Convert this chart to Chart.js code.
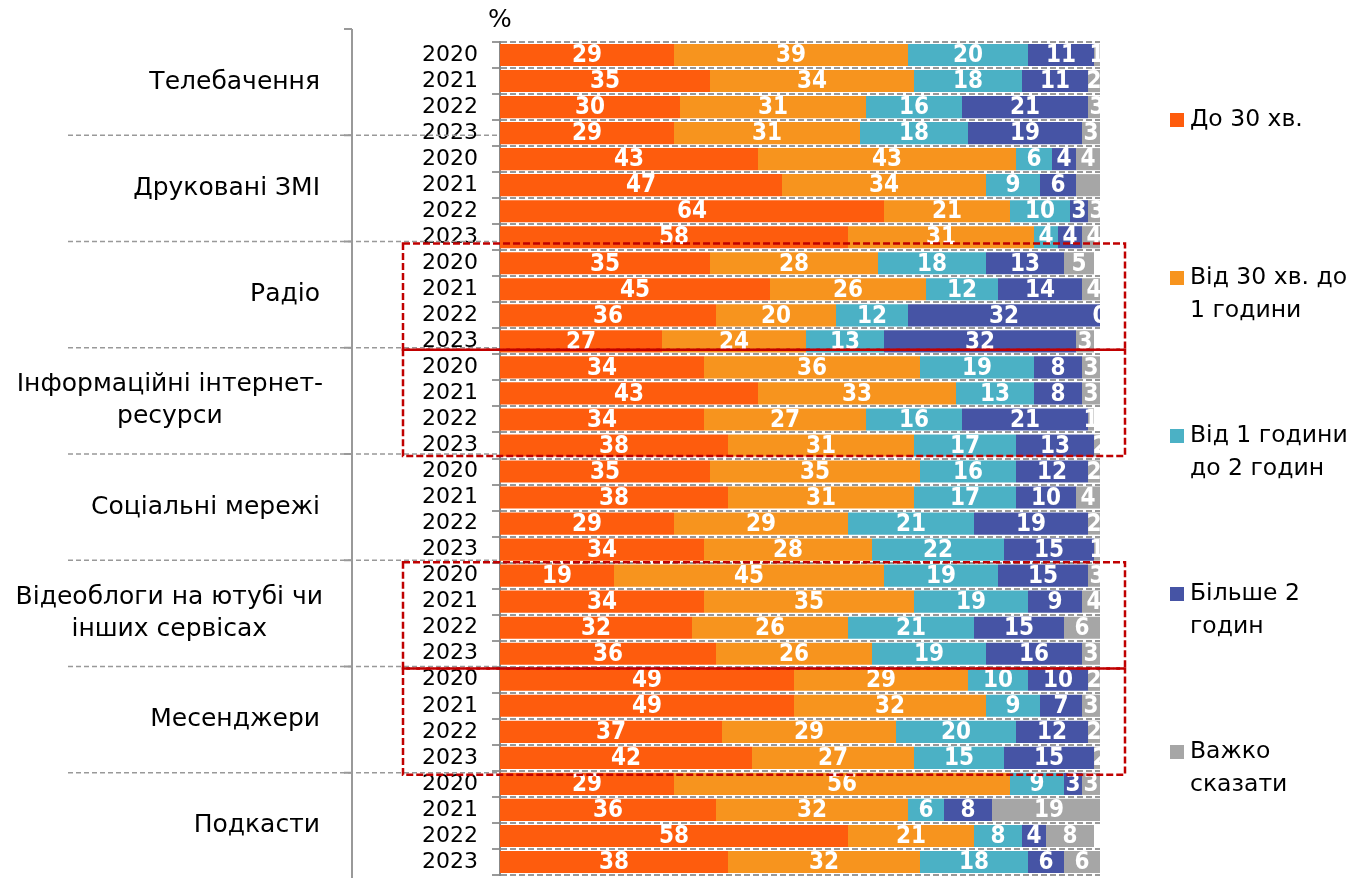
<!DOCTYPE html>
<html>
<head>
<meta charset="utf-8">
<title>Час споживання медіа</title>
<script src="https://cdn.jsdelivr.net/npm/chart.js@4.4.1/dist/chart.umd.min.js"></script>
<style>
    html, body { margin: 0; padding: 0; background: #fff; }
    #wrap { width: 1352px; height: 878px; }
    canvas { display: block; }
</style>
</head>
<body>
<div id="wrap"><canvas id="chart" width="1352" height="878"></canvas></div>
<script>
// Data
const years = ['2020', '2021', '2022', '2023'];
const groups = [
    ['Телебачення'],
    ['Друковані ЗМІ'],
    ['Радіо'],
    ['Інформаційні інтернет-', 'ресурси'],
    ['Соціальні мережі'],
    ['Відеоблоги на ютубі чи', 'інших сервісах'],
    ['Месенджери'],
    ['Подкасти']
];
const seriesNames = [
    ['До 30 хв.'],
    ['Від 30 хв. до', '1 години'],
    ['Від 1 години', 'до 2 годин'],
    ['Більше 2', 'годин'],
    ['Важко', 'сказати']
];
const seriesColors = ['#FE5C0D', '#F7941E', '#4BB1C5', '#4654A5', '#A6A6A6'];

// rows: each group 2020..2023
const under30    = [29, 35, 30, 29,  43, 47, 64, 58,  35, 45, 36, 27,  34, 43, 34, 38,  35, 38, 29, 34,  19, 34, 32, 36,  49, 49, 37, 42,  29, 36, 58, 38];
const from30to60 = [39, 34, 31, 31,  43, 34, 21, 31,  28, 26, 20, 24,  36, 33, 27, 31,  35, 31, 29, 28,  45, 35, 26, 26,  29, 32, 29, 27,  56, 32, 21, 32];
const from1to2   = [20, 18, 16, 18,   6,  9, 10,  4,  18, 12, 12, 13,  19, 13, 16, 17,  16, 17, 21, 22,  19, 19, 21, 19,  10,  9, 20, 15,   9,  6,  8, 18];
const over2      = [11, 11, 21, 19,   4,  6,  3,  4,  13, 14, 32, 32,   8,  8, 21, 13,  12, 10, 19, 15,  15,  9, 15, 16,  10,  7, 12, 15,   3,  8,  4,  6];
const hardToSay  = [ 1,  2,  3,  3,   4,  4,  3,  4,   5,  4,  0,  3,   3,  3,  1,  2,   2,  4,  2,  1,   3,  4,  6,  3,   2,  3,  2,  2,   3, 19,  8,  6];

const unlabeled = [[4, 5]];          // [series, row] shown without a value label
const highlighted = [2, 3, 5, 6];    // groups framed in red

const rowLabels = groups.flatMap(() => years);
const seriesData = [under30, from30to60, from1to2, over2, hardToSay];

const FONT = '"DejaVu Sans", "Noto Sans", sans-serif';
const LABEL_FONT = 'bold 24px "Liberation Sans Narrow", "DejaVu Sans Condensed", "Roboto", sans-serif';

function groupEdge(chart, g) {
    const a = chart.chartArea;
    const top = a.top - 13, bottom = a.bottom + 4;
    return top + (bottom - top) * g / groups.length;
}

const valueLabels = {
    id: 'valueLabels',
    afterDatasetsDraw(chart) {
        const ctx = chart.ctx, a = chart.chartArea;
        ctx.save();
        ctx.beginPath();
        ctx.rect(a.left, a.top - 5, a.right - a.left + 3, a.bottom - a.top + 10);
        ctx.clip();
        ctx.font = LABEL_FONT;
        ctx.fillStyle = '#fff';
        ctx.textAlign = 'center';
        ctx.textBaseline = 'middle';
        chart.data.datasets.forEach((ds, di) => {
            chart.getDatasetMeta(di).data.forEach((bar, ri) => {
                if (unlabeled.some(([s, r]) => s === di && r === ri)) return;
                const p = bar.getCenterPoint();
                ctx.fillText(String(ds.data[ri]), p.x, p.y + 1);
            });
        });
        ctx.restore();
    }
};

const decorations = {
    id: 'decorations',
    afterDraw(chart) {
        const ctx = chart.ctx, a = chart.chartArea;
        ctx.save();

        // group separators and bracket line
        ctx.strokeStyle = '#999';
        ctx.lineWidth = 1.5;
        ctx.setLineDash([5, 3]);
        for (let g = 1; g < groups.length; g++) {
            const y = groupEdge(chart, g);
            ctx.beginPath();
            ctx.moveTo(68, y);
            ctx.lineTo(a.left, y);
            ctx.stroke();
        }
        ctx.setLineDash([]);
        ctx.lineWidth = 2;
        ctx.beginPath();
        ctx.moveTo(352, groupEdge(chart, 0));
        ctx.lineTo(352, 878);
        ctx.stroke();
        for (let g = 0; g < groups.length; g++) {
            const y = groupEdge(chart, g);
            ctx.beginPath();
            ctx.moveTo(344, y);
            ctx.lineTo(352, y);
            ctx.stroke();
        }

        // group names
        ctx.fillStyle = '#000';
        ctx.font = '25px ' + FONT;
        ctx.textBaseline = 'middle';
        groups.forEach((lines, g) => {
            const mid = (groupEdge(chart, g) + groupEdge(chart, g + 1)) / 2;
            const lh = 32;
            const y0 = mid - (lines.length - 1) * lh / 2;
            if (lines.length === 1) {
                ctx.textAlign = 'right';
                ctx.fillText(lines[0], 320, y0);
            } else {
                const w = Math.max(...lines.map(l => ctx.measureText(l).width));
                ctx.textAlign = 'center';
                lines.forEach((l, i) => ctx.fillText(l, 323 - w / 2, y0 + i * lh));
            }
        });

        // red frames
        ctx.strokeStyle = '#C00000';
        ctx.lineWidth = 2.5;
        ctx.setLineDash([7, 3]);
        highlighted.forEach(g => {
            const y1 = groupEdge(chart, g) + 2, y2 = groupEdge(chart, g + 1) + 2;
            ctx.strokeRect(403, y1, 1125 - 403, y2 - y1);
        });
        ctx.setLineDash([]);

        // percent sign
        ctx.fillStyle = '#000';
        ctx.font = '25px ' + FONT;
        ctx.textAlign = 'center';
        ctx.fillText('%', a.left, 20);

        // legend
        ctx.font = '23.5px ' + FONT;
        ctx.textAlign = 'left';
        chart.data.datasets.forEach((ds, i) => {
            const y = 120 + i * 158;
            ctx.fillStyle = ds.backgroundColor;
            ctx.fillRect(1170, y - 7, 14, 14);
            ctx.fillStyle = '#000';
            seriesNames[i].forEach((l, j) => ctx.fillText(l, 1190, y + j * 33));
        });
        ctx.restore();
    }
};

new Chart(document.getElementById('chart'), {
    type: 'bar',
    data: {
        labels: rowLabels,
        datasets: seriesData.map((d, i) => ({
            label: seriesNames[i].join(' '),
            data: d,
            backgroundColor: seriesColors[i],
            borderWidth: 0,
            barPercentage: 0.85,
            categoryPercentage: 1
        }))
    },
    options: {
        indexAxis: 'y',
        responsive: false,
        animation: false,
        layout: { padding: { top: 42, bottom: 3, right: 252, left: 0 } },
        plugins: { legend: { display: false }, tooltip: { enabled: false } },
        scales: {
            x: { stacked: true, min: 0, max: 100, display: false },
            y: {
                stacked: true,
                grid: { color: '#999', lineWidth: 2, tickLength: 8, tickColor: '#999', tickWidth: 2 },
                border: { display: true, color: '#888', width: 2, dash: [6, 3] },
                ticks: { color: '#000', font: { size: 22, family: FONT }, padding: 14, autoSkip: false },
                afterFit(scale) {
                    scale.width = 500;
                    scale.paddingTop = 0;
                    scale.paddingBottom = 0;
                }
            }
        }
    },
    plugins: [valueLabels, decorations]
});
</script>
</body>
</html>
